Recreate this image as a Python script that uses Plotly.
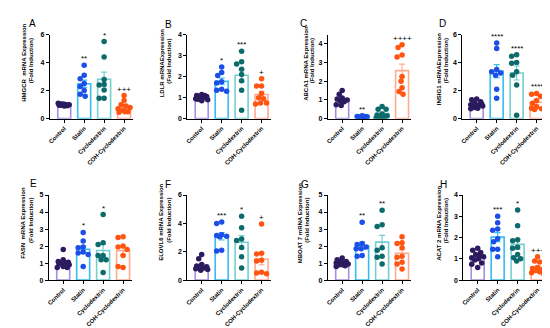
import numpy as np
import plotly.graph_objects as go

categories = ["Control", "Statin", "Cyclodextrin", "COH-Cyclodextrin"]
point_colors = ["#2b1b5e", "#1c4fe6", "#0d6b6b", "#ff5511"]
bar_colors = ["#a58fe0", "#36bdf2", "#74cfd0", "#ffab8f"]

panel_letters = ["A", "B", "C", "D", "E", "F", "G", "H"]
y_titles_line1 = [
    "HMGCR  mRNA Expression",
    "LDLR mRNAExpression",
    "ABCA1 mRNA Expression",
    "INSIG1 mRNAExpression",
    "FASN  mRNA Expression",
    "ELOVL6 mRNA Expression",
    "MBOAT 7 mRNA Expression",
    "ACAT 2 mRNA Expression",
]
y_title_line2 = "(Fold Induction)"
y_max = [6, 4, 4.5, 6, 5, 6, 5, 4]
y_dtick = [2, 1, 1, 2, 1, 2, 1, 1]

# values per group: Control, Statin, Cyclodextrin, COH-Cyclodextrin
HMGCR = [
    [0.9, 0.95, 1.0, 1.05, 1.0, 0.95, 1.02, 1.05, 1.1, 0.92, 0.98],
    [3.8, 3.1, 2.85, 2.5, 2.3, 2.0, 1.75, 1.6],
    [5.5, 4.4, 2.8, 2.45, 2.4, 2.05, 1.45, 1.45],
    [1.65, 1.3, 1.0, 0.9, 0.8, 0.7, 0.6, 0.5, 0.45, 0.5],
]
HMGCR_sig = ["", "**", "*", "+++"]

LDLR = [
    [1.15, 1.1, 1.05, 1.0, 1.0, 0.95, 0.9, 0.85, 1.1, 1.0, 0.92, 1.05],
    [2.45, 2.2, 2.05, 1.75, 1.7, 1.4, 1.35, 1.3],
    [3.2, 2.7, 2.6, 2.35, 2.1, 1.8, 1.35, 0.4],
    [1.9, 1.55, 1.55, 1.2, 1.0, 0.95, 0.75, 0.75, 0.7],
]
LDLR_sig = ["", "*", "***", "+"]

ABCA1 = [
    [1.5, 1.3, 1.1, 1.05, 1.0, 0.95, 0.9, 0.7, 0.75, 1.0],
    [0.15, 0.12, 0.1, 0.1, 0.08, 0.05, 0.1, 0.12],
    [0.65, 0.5, 0.5, 0.25, 0.2, 0.15, 0.1, 0.1, 0.05],
    [3.95, 3.8, 3.4, 3.3, 2.25, 2.0, 1.65, 1.45, 1.3],
]
ABCA1_sig = ["", "**", "", "++++"]

INSIG1 = [
    [1.4, 1.35, 1.2, 1.1, 1.0, 0.95, 0.9, 0.8, 0.7, 0.75, 1.05],
    [5.4, 5.0, 3.5, 3.35, 3.25, 3.1, 2.1, 1.45],
    [4.55, 4.45, 4.0, 3.95, 3.35, 3.1, 2.4, 0.25],
    [1.8, 1.75, 1.6, 1.3, 1.1, 0.85, 0.75, 0.7, 0.65],
]
INSIG1_sig = ["", "****", "****", "****"]

FASN = [
    [1.8, 1.2, 1.1, 1.05, 1.0, 1.0, 0.95, 0.9, 0.8, 0.75, 0.75],
    [2.8, 2.3, 1.95, 1.9, 1.65, 1.6, 1.5, 0.8],
    [3.85, 2.2, 2.1, 1.45, 1.45, 1.2, 1.2, 0.45],
    [2.55, 2.5, 2.0, 1.95, 1.8, 1.45, 0.75, 0.8],
]
FASN_sig = ["", "*", "*", ""]

ELOVL6 = [
    [1.8, 1.5, 1.1, 1.0, 0.95, 0.9, 0.85, 0.8, 0.75, 0.7, 0.9],
    [4.1, 4.0, 3.2, 3.15, 3.1, 3.05, 2.1, 2.05],
    [4.5, 3.7, 2.9, 2.8, 2.3, 1.65, 0.85],
    [3.95, 1.9, 1.85, 1.4, 1.35, 0.55, 0.5, 0.45],
]
ELOVL6_sig = ["", "***", "*", "+"]

MBOAT7 = [
    [1.3, 1.2, 1.1, 1.05, 1.0, 1.0, 0.95, 0.9, 0.9, 0.85, 0.8],
    [3.4, 2.15, 2.1, 1.95, 1.85, 1.85, 1.45, 1.4],
    [4.1, 3.25, 3.15, 1.9, 1.75, 1.4, 1.35, 0.95],
    [2.55, 2.2, 2.15, 1.9, 1.4, 1.35, 1.05, 0.95, 0.65],
]
MBOAT7_sig = ["", "**", "**", ""]

ACAT2 = [
    [1.5, 1.4, 1.3, 1.2, 1.1, 1.05, 1.0, 0.95, 0.8, 0.75, 0.6, 1.15],
    [3.0, 2.7, 2.4, 2.35, 1.95, 1.8, 1.45, 1.45, 1.1],
    [3.3, 2.55, 1.9, 1.85, 1.55, 1.5, 1.2, 1.05, 1.0, 0.9],
    [1.1, 0.9, 0.85, 0.6, 0.55, 0.5, 0.45, 0.4, 0.35, 0.3],
]
ACAT2_sig = ["", "***", "*", "+++"]

panels = [HMGCR, LDLR, ABCA1, INSIG1, FASN, ELOVL6, MBOAT7, ACAT2]
sigs = [HMGCR_sig, LDLR_sig, ABCA1_sig, INSIG1_sig, FASN_sig, ELOVL6_sig, MBOAT7_sig, ACAT2_sig]

# ---- layout geometry (pixels) ----
W, H = 550, 328
panel_left = [40, 178, 319, 454, 39, 178, 319, 455]
panel_width = 83.5
row_top = [23, 187]
row_bottom = [109, 274]
title1_x = [14, 152, 297, 430, 13.5, 152, 291, 431]
title2_x = [21.5, 159.5, 303.5, 438, 21.5, 160, 298.5, 438.5]
title1_y = [52, 52, 52, 58, 215, 215, 215, 216]
title2_y = [50, 50, 50, 50, 213, 213, 213, 213]
letter_pos = [(23, 12), (159, 13), (295, 12), (434, 12), (24, 175), (159, 176), (296, 176), (435, 176)]
x_range = [-0.72, 3.45]
spacing_px = panel_width / (x_range[1] - x_range[0])
FONT = "Liberation Sans, Arial, sans-serif"


def swarm(vals, px_per_unit, diam=4.8, max_off=6.0):
    placed, offs = [], []
    cands = sorted(np.linspace(-max_off, max_off, 13), key=abs)
    for v in vals:
        y = v * px_per_unit
        best, bestd = 0.0, -1.0
        for c in cands:
            d = min([np.hypot(c - px, y - py) for px, py in placed], default=99.0)
            if d >= diam:
                best = c
                break
            if d > bestd:
                bestd, best = d, c
        placed.append((best, y))
        offs.append(best)
    return offs


fig = go.Figure()
layout = dict(
    width=W, height=H, margin=dict(l=0, r=0, t=0, b=0),
    paper_bgcolor="white", plot_bgcolor="white", showlegend=False,
    barmode="overlay", font=dict(family=FONT, color="black"),
)
annotations = []

for p in range(8):
    row = 0 if p < 4 else 1
    sfx = "" if p == 0 else str(p + 1)
    xa, ya = "x" + sfx, "y" + sfx
    x0 = panel_left[p] / W
    x1 = (panel_left[p] + panel_width) / W
    y0 = 1 - row_bottom[row] / H
    y1 = 1 - row_top[row] / H
    px_per_unit = (row_bottom[row] - row_top[row]) / y_max[p]
    layout["xaxis" + sfx] = dict(
        domain=[x0, x1], anchor=ya, range=x_range,
        tickvals=[0, 1, 2, 3], ticktext=categories, tickangle=-45,
        tickfont=dict(size=6, family=FONT, weight="bold"),
        showline=True, linecolor="black", linewidth=1,
        ticks="outside", ticklen=3, tickwidth=1, tickcolor="black",
        showgrid=False, zeroline=False, fixedrange=True,
    )
    layout["yaxis" + sfx] = dict(
        domain=[y0, y1], anchor=xa, range=[0, y_max[p]], dtick=y_dtick[p], tick0=0,
        tickfont=dict(size=7, family=FONT, weight="bold"),
        showline=True, linecolor="black", linewidth=1,
        ticks="outside", ticklen=3, tickwidth=1, tickcolor="black",
        showgrid=False, zeroline=False, fixedrange=True,
    )
    for g in range(4):
        vals = np.array(panels[p][g], dtype=float)
        mean = vals.mean()
        sem = vals.std(ddof=1) / np.sqrt(len(vals))
        fig.add_trace(go.Bar(
            x=[g], y=[mean], width=0.65, xaxis=xa, yaxis=ya,
            marker=dict(color="rgba(255,255,255,0)", line=dict(color=bar_colors[g], width=1.6)),
            error_y=dict(type="data", array=[sem], color=bar_colors[g], thickness=1.2, width=3),
        ))
        offs = swarm(list(vals), px_per_unit)
        fig.add_trace(go.Scatter(
            x=[g + o / spacing_px for o in offs], y=list(vals), mode="markers",
            xaxis=xa, yaxis=ya,
            marker=dict(color=point_colors[g], size=5.5, line=dict(width=0)),
        ))
        if sigs[p][g]:
            top = max(vals.max(), mean + sem)
            annotations.append(dict(
                x=g, y=top, xref=xa, yref=ya, text=sigs[p][g], showarrow=False,
                yanchor="bottom", yshift=0,
                font=dict(size=8, family=FONT, color="black"),
            ))
    annotations.append(dict(
        x=title1_x[p] / W, y=1 - title1_y[p] / H, xref="paper", yref="paper",
        text=y_titles_line1[p], showarrow=False, textangle=-90,
        xanchor="center", yanchor="middle",
        font=dict(size=6, family=FONT, weight="bold", color="black"),
    ))
    annotations.append(dict(
        x=title2_x[p] / W, y=1 - title2_y[p] / H, xref="paper", yref="paper",
        text=y_title_line2, showarrow=False, textangle=-90,
        xanchor="center", yanchor="middle",
        font=dict(size=6, family=FONT, weight="bold", color="black"),
    ))
    lx, ly = letter_pos[p]
    annotations.append(dict(
        x=lx / W, y=1 - ly / H, xref="paper", yref="paper",
        text=panel_letters[p], showarrow=False, xanchor="center", yanchor="middle",
        font=dict(size=10, family=FONT, color="black"),
    ))

layout["annotations"] = annotations
fig.update_layout(**layout)
fig.write_html("out.html")
